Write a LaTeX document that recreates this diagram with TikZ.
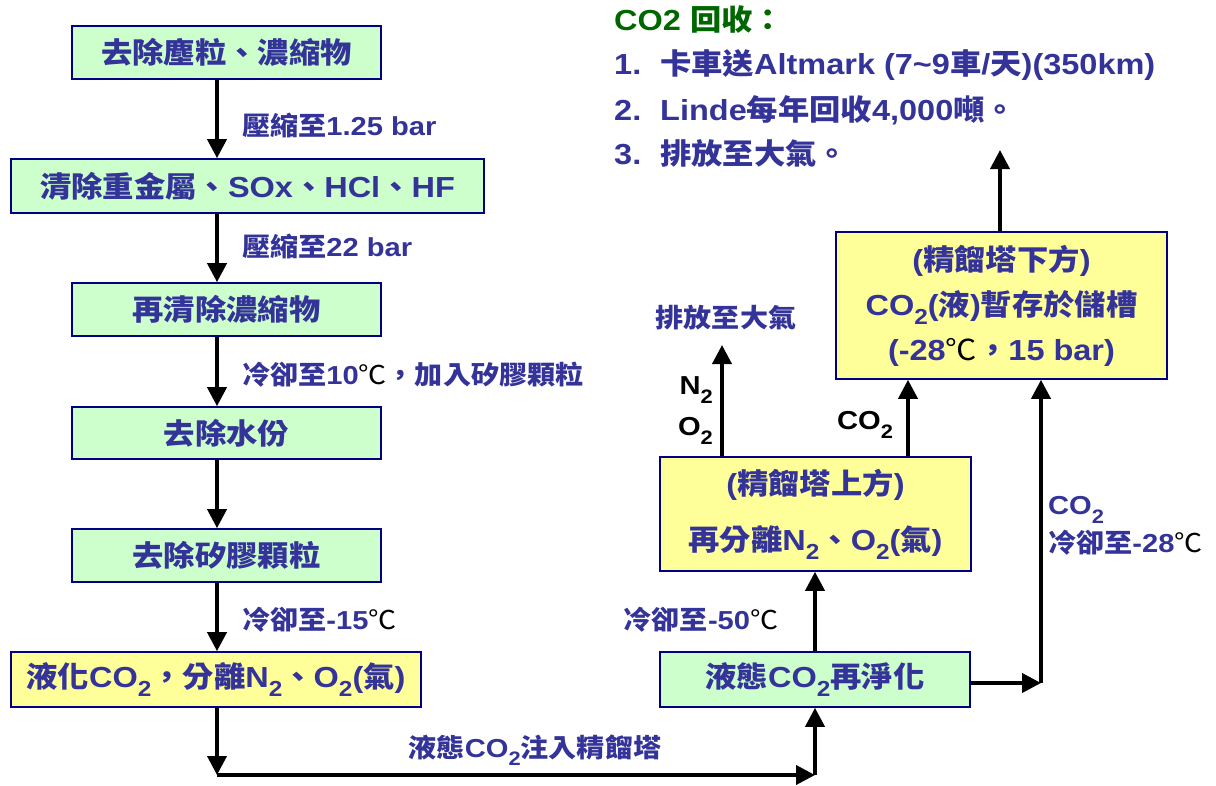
\documentclass[tikz,border=0pt]{standalone}
\usepackage{graphicx}
\usepackage{fontspec}
\setmainfont{Liberation Sans}[FakeStretch=1.12]
\newfontfamily\cjk{Noto Sans CJK TC}[FakeStretch=1.08]
\usetikzlibrary{arrows.meta}
\definecolor{txt}{RGB}{51,51,153}
\definecolor{bord}{RGB}{0,0,128}
\definecolor{gfill}{RGB}{204,255,204}
\definecolor{yfill}{RGB}{255,255,153}
\definecolor{ttl}{RGB}{0,102,0}
\newcommand\C[1]{{\cjk #1}}
\newcommand\dC{{\cjk\mdseries\color{black}℃}}
\newcommand\sbt[1]{\raisebox{-0.32em}{\scalebox{0.75}{#1}}}
\tikzset{
  box/.style={draw=bord, line width=1.6pt, text=txt, align=center, inner sep=0pt,
    font=\fontsize{29}{34}\selectfont\bfseries},
  gbox/.style={box, fill=gfill},
  ybox/.style={box, fill=yfill},
  lab/.style={text=txt, inner sep=0pt, font=\fontsize{26}{38}\selectfont\bfseries},
  blab/.style={lab, text=black},
  toptxt/.style={text=txt, inner sep=0pt, anchor=west, font=\fontsize{29}{34}\selectfont\bfseries},
  arr/.style={line width=3.8pt, draw=black, -{Triangle[length=19pt,width=19pt]}}
}
\begin{document}
\begin{tikzpicture}[x=1pt,y=-1pt]
\useasboundingbox (0,0) rectangle (1216,785);
% boxes
\node[gbox, minimum width=309pt, minimum height=53pt] (b1) at (226.5,52.5) {\C{去除塵粒、濃縮物}};
\node[gbox, minimum width=473pt, minimum height=54pt] (b2) at (247.5,186) {\C{清除重金屬、}SOx\C{、}HCl\C{、}HF};
\node[gbox, minimum width=309pt, minimum height=53pt] (b3) at (226.5,309.5) {\C{再清除濃縮物}};
\node[gbox, minimum width=309pt, minimum height=52pt] (b4) at (226.5,433) {\C{去除水份}};
\node[gbox, minimum width=309pt, minimum height=53pt] (b5) at (226.5,555.5) {\C{去除矽膠顆粒}};
\node[ybox, minimum width=410pt, minimum height=55pt] (b6) at (216,679.5) {\C{液化}CO\sbt{2}\C{，分離}N\sbt{2}\C{、}O\sbt{2}(\C{氣})};
\node[gbox, minimum width=310pt, minimum height=55pt] (b7) at (815,679.5) {\C{液態}CO\sbt{2}\C{再淨化}};
\node[ybox, minimum width=311pt, minimum height=114pt] (b8) at (815.5,514) {(\C{精餾塔上方})\\[22pt]\C{再分離}N\sbt{2}\C{、}O\sbt{2}(\C{氣})};
\node[ybox, minimum width=331pt, minimum height=147pt, font=\fontsize{29}{45}\selectfont\bfseries] (b9) at (1001.5,305.5) {(\C{精餾塔下方})\\CO\sbt{2}(\C{液})\C{暫存於儲槽}\\(-28\dC\C{，}15 bar)};
% helper coordinates
\coordinate (xL) at (217,0);
\coordinate (xA) at (722,0);
\coordinate (xB) at (908,0);
\coordinate (xC) at (1000,0);
\coordinate (xD) at (1041,0);
\coordinate (xE) at (815,0);
\coordinate (c1) at (217,775);
\coordinate (c2) at (815,775);
\coordinate (t1) at (722,345);
\coordinate (t2) at (1000,150);
\coordinate (c3) at (1041,683);
\coordinate (s7) at (968,683);
% arrows
\draw[arr] (b1.south -| xL) -- (b2.north -| xL);
\draw[arr] (b2.south -| xL) -- (b3.north -| xL);
\draw[arr] (b3.south -| xL) -- (b4.north -| xL);
\draw[arr] (b4.south -| xL) -- (b5.north -| xL);
\draw[arr] (b5.south -| xL) -- (b6.north -| xL);
\draw[arr] (b6.south -| xL) -- (c1);
\draw[arr] (c1) -- (c2);
\draw[arr] (c2) -- (b7.south -| xE);
\draw[arr] (b7.north -| xE) -- (b8.south -| xE);
\draw[arr] (b8.north -| xA) -- (t1);
\draw[arr] (b8.north -| xB) -- (b9.south -| xB);
\draw[arr] (b9.north -| xC) -- (t2);
\draw[arr] (b7.east |- s7) -- (c3);
\draw[arr] (c3) -- (b9.south -| xD);
% labels
\node[lab, anchor=west] (l1) at (242,125) {\C{壓縮至}1.25 bar};
\node[lab, anchor=west] (l2) at (242,246) {\C{壓縮至}22 bar};
\node[lab, anchor=west] (l3) at (242,375) {\C{冷卻至}10\dC\C{，加入矽膠顆粒}};
\node[lab, anchor=west] (l4) at (242,620) {\C{冷卻至}-15\dC};
\node[lab] (l5) at (701,620) {\C{冷卻至}-50\dC};
\node[lab] (l6) at (535,750) {\C{液態}CO\sbt{2}\C{注入精餾塔}};
\node[lab] (l7) at (726,318) {\C{排放至大氣}};
\node[blab, anchor=east] (l8) at (713,390) {N\sbt{2}};
\node[blab, anchor=east] (l9) at (713,431) {O\sbt{2}};
\node[blab] (l10) at (865,425) {CO\sbt{2}};
\node[lab, anchor=west, align=left] (l11) at (1048,526) {CO\sbt{2}\\\C{冷卻至}-28\dC};
% top-right text
\node[toptxt, text=ttl] (h0) at (614,20) {CO2 \C{回收：}};
\node[toptxt] (h1) at (614,65) {\makebox[46pt][l]{1.}\C{卡車送}Altmark (7\textasciitilde 9\C{車}/\C{天})(350km)};
\node[toptxt] (h2) at (614,110) {\makebox[46pt][l]{2.}Linde\C{每年回收}4,000\C{噸。}};
\node[toptxt] (h3) at (614,153) {\makebox[46pt][l]{3.}\C{排放至大氣。}};
\end{tikzpicture}
\end{document}
